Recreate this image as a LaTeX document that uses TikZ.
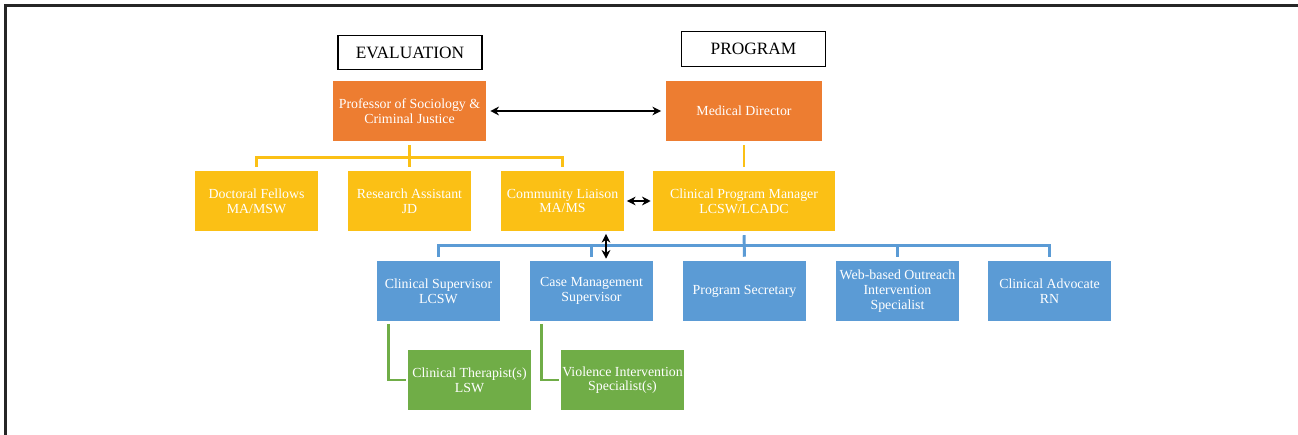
\documentclass[tikz,border=0pt]{standalone}
\usepackage{fontspec}
\setmainfont{Liberation Serif}
\usetikzlibrary{arrows.meta}
\definecolor{corange}{HTML}{ED7D31}
\definecolor{cyellow}{HTML}{FBC015}
\definecolor{cblue}{HTML}{5B9BD5}
\definecolor{cgreen}{HTML}{70AD47}
\definecolor{cframe}{HTML}{262626}
\tikzset{
  basebox/.style={draw=none, text=white, align=center, inner sep=1pt, font=\fontsize{10.4}{11}\selectfont},
  obox/.style={basebox, fill=corange, minimum height=45pt},
  ybox/.style={basebox, fill=cyellow, minimum width=92.25pt, minimum height=45pt},
  bbox/.style={basebox, fill=cblue, minimum width=92.25pt, minimum height=45pt},
  gbox/.style={basebox, fill=cgreen, minimum width=92.25pt, minimum height=45pt},
  hbox/.style={draw=black, line width=0.9pt, minimum width=108pt, minimum height=26pt, inner sep=1pt, font=\fontsize{13}{15}\selectfont},
  yl/.style={draw=cyellow, line width=2.2pt, shorten <=3pt, shorten >=3pt},
  bl/.style={draw=cblue, line width=2.2pt, shorten <=3pt, shorten >=3pt},
  gl/.style={draw=cgreen, line width=2.2pt},
  arr/.style={draw=black, line width=1.5pt, {Stealth[length=6.5pt,width=6.5pt]}-{Stealth[length=6.5pt,width=6.5pt]}}
}
\begin{document}
\begin{tikzpicture}[x=0.75pt,y=-0.75pt]
\useasboundingbox (0,0) rectangle (1298,435);
% frame
\draw[cframe, line width=2.4pt] (5.5,435) -- (5.5,5.5) -- (1298,5.5);
% headers
\node[hbox] (eval) at (410,52.5) {EVALUATION};
\node[hbox] (prog) at (753.5,49) {PROGRAM};
% top level
\node[obox, minimum width=114.75pt] (prof) at (409.5,111) {Professor of Sociology \&\\Criminal Justice};
\node[obox, minimum width=117pt] (med) at (744,111) {Medical Director};
% second level
\node[ybox] (doc) at (256.5,201) {Doctoral Fellows\\MA/MSW};
\node[ybox] (ra) at (409.5,201) {Research Assistant\\JD};
\node[ybox] (cl) at (562.5,201) {Community Liaison\\MA/MS};
\node[ybox, minimum width=136.5pt] (cpm) at (744,201) {Clinical Program Manager\\LCSW/LCADC};
% third level
\node[bbox] (cs) at (438.5,291) {Clinical Supervisor\\LCSW};
\node[bbox] (cm) at (591.5,291) {Case Management\\Supervisor};
\node[bbox] (ps) at (744.5,291) {Program Secretary};
\node[bbox] (web) at (897.5,291) {Web-based Outreach\\Intervention\\Specialist};
\node[bbox] (ca) at (1049.5,291) {Clinical Advocate\\RN};
% fourth level
\node[gbox] (ct) at (469.5,380) {Clinical Therapist(s)\\LSW};
\node[gbox] (vi) at (622.5,380) {Violence Intervention\\Specialist(s)};
% yellow connectors
\draw[yl] (prof.south) -- ++(0,16) -| (doc.north);
\draw[yl] (prof.south) -- (ra.north);
\draw[yl] (prof.south) -- ++(0,16) -| (cl.north);
\draw[yl] (med.south) -- (cpm.north);
% blue connectors
\draw[bl] (cpm.south) -- ++(0,14) -| (cs.north);
\draw[bl] (cpm.south) -- ++(0,14) -| (cm.north);
\draw[bl] (cpm.south) -- (ps.north);
\draw[bl] (cpm.south) -- ++(0,14) -| (web.north);
\draw[bl] (cpm.south) -- ++(0,14) -| (ca.north);
% green connectors
\draw[gl] ([xshift=9pt,yshift=-2pt]cs.south west) |- ([xshift=-1.5pt]ct.west);
\draw[gl] ([xshift=9pt,yshift=-2pt]cm.south west) |- ([xshift=-1.5pt]vi.west);
% black arrows
\draw[arr, shorten <=3pt, shorten >=3.5pt] (prof.east) -- (med.west);
\draw[arr, shorten <=2pt, shorten >=1.5pt] (cl.east) -- (cpm.west);
\coordinate (va) at (606,246);
\draw[arr, shorten <=2pt, shorten >=1.5pt] (va |- cl.south) -- (va |- cm.north);
\end{tikzpicture}
\end{document}
